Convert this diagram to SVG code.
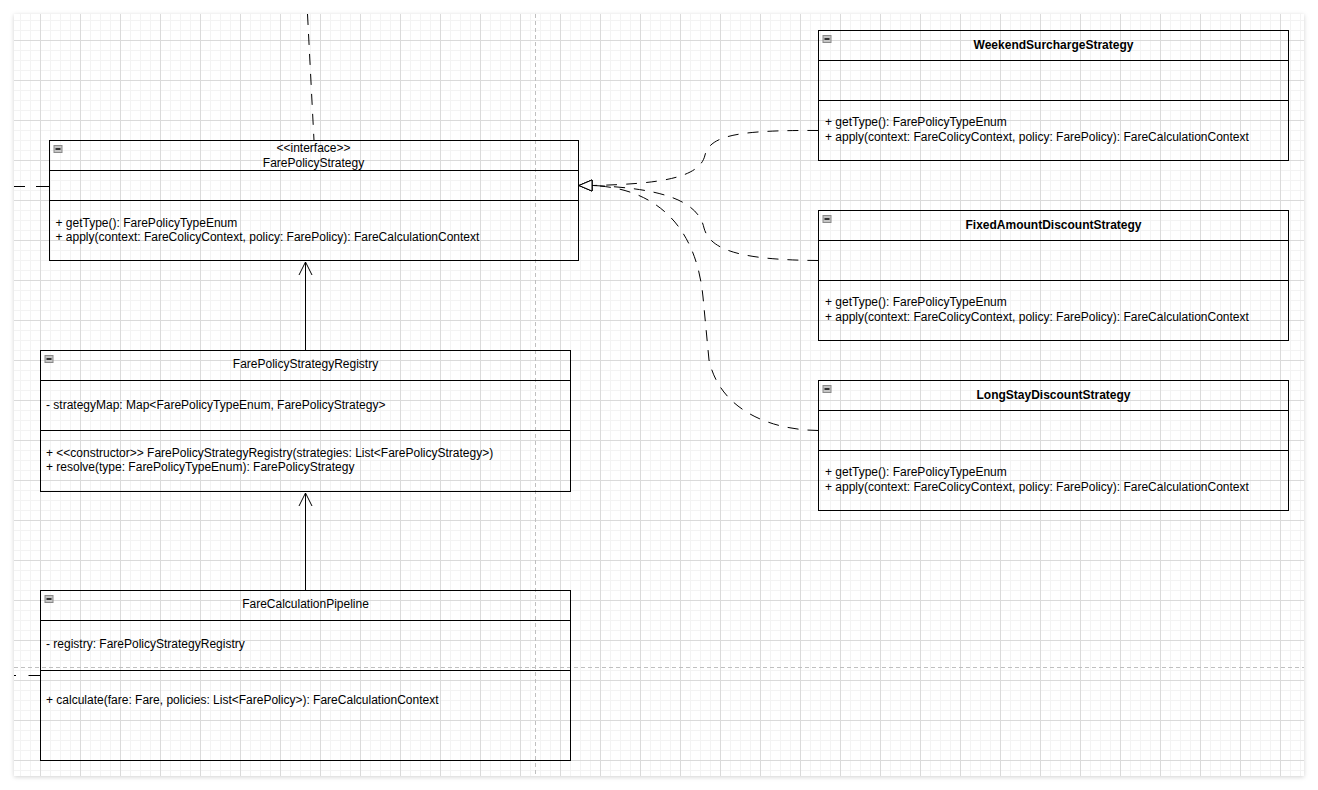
<svg xmlns="http://www.w3.org/2000/svg" width="1318" height="790" viewBox="0 0 1318 790">
<style>
text{font-family:"Liberation Sans",Arial,sans-serif;font-size:12px;fill:#000}
.t{text-anchor:middle}
.b{font-weight:bold}
.box{fill:none;stroke:#000;stroke-width:1}
.sep{stroke:#000;stroke-width:1}
.ico{fill:#c4c4c4;stroke:#8a8a8a;stroke-width:1}
.icl{stroke:#000;stroke-width:1.5}
.dash{fill:none;stroke:#000;stroke-width:1;stroke-dasharray:11 9}
.solid{fill:none;stroke:#000;stroke-width:1}
.pb{fill:none;stroke:#c0c0c0;stroke-width:1;stroke-dasharray:4 3}
</style>
<defs>
<pattern id="minor" x="0" y="0" width="10" height="10" patternUnits="userSpaceOnUse">
<path d="M0.5 0V10M0 0.5H10" stroke="#f3f3f3" stroke-width="1" fill="none"/>
</pattern>
<pattern id="major" x="0" y="0" width="40" height="40" patternUnits="userSpaceOnUse">
<rect width="40" height="40" fill="url(#minor)"/>
<path d="M0.5 0V40M0 0.5H40" stroke="#dadada" stroke-width="1" fill="none"/>
</pattern>
<filter id="sh" x="-5%" y="-5%" width="110%" height="110%">
<feDropShadow dx="0" dy="1" stdDeviation="2" flood-color="#000" flood-opacity="0.18"/>
</filter>
<marker id="tri" markerUnits="userSpaceOnUse" markerWidth="16" markerHeight="14" viewBox="-1 -1 16 14" refX="13" refY="5.5" orient="auto">
<path d="M0 0L13 5.5L0 11Z" fill="#fff" stroke="#000" stroke-width="1" stroke-dasharray="none"/>
</marker>
<marker id="open" markerUnits="userSpaceOnUse" markerWidth="16" markerHeight="16" viewBox="-1 -1 16 16" refX="13" refY="6.5" orient="auto">
<path d="M0 0L13 6.5L0 13" fill="none" stroke="#000" stroke-width="1" stroke-dasharray="none"/>
</marker>
</defs>
<rect width="1318" height="790" fill="#fff"/>
<rect x="14" y="14" width="1290" height="762" fill="#fff" filter="url(#sh)"/>
<rect x="14" y="14" width="1290" height="762" fill="url(#major)"/>
<path class="pb" d="M535.5 14V776M14 667.5H1304"/>

<g id="connectors">
<path class="dash" d="M307.5 14L314 140.5"/>
<path class="solid" d="M14 186.5H25M36 186.5H49.5"/>
<path class="solid" d="M14 675.5H16M28.5 675.5H40.5"/>
<path class="solid" d="M305.5 350.5V262" marker-end="url(#open)"/>
<path class="solid" d="M305.5 590.5V493" marker-end="url(#open)"/>
<path class="dash" d="M818.5 130.5C740 130 710 135 705 155C700 178 660 184 592 185.5L579 185.5" marker-end="url(#tri)"/>
<path class="dash" d="M818.5 260.5C740 260 710 250 704 228C698 200 660 188 592 185.5L579 185.5" marker-end="url(#tri)"/>
<path class="dash" d="M818.5 430.5C770 430 720 410 709 360L703 297C696 225 655 188 592 185.5L579 185.5" marker-end="url(#tri)"/>
</g>

<g id="FarePolicyStrategy">
<rect class="box" x="49.5" y="140.5" width="529" height="120"/>
<path class="sep" d="M49.5 170.5H578.5M49.5 200.5H578.5"/>
<rect class="ico" x="54" y="145.5" width="8" height="7"/>
<path class="icl" d="M55.5 149H60.5"/>
<text class="t" x="313.5" y="152">&lt;&lt;interface&gt;&gt;</text>
<text class="t" x="313.5" y="167">FarePolicyStrategy</text>
<text x="55.5" y="227">+ getType(): FarePolicyTypeEnum</text>
<text x="55.5" y="241">+ apply(context: FareColicyContext, policy: FarePolicy): FareCalculationContext</text>
</g>

<g id="FarePolicyStrategyRegistry">
<rect class="box" x="40.5" y="350.5" width="530" height="141"/>
<path class="sep" d="M40.5 380.5H570.5M40.5 430.5H570.5"/>
<rect class="ico" x="45" y="355.5" width="8" height="7"/>
<path class="icl" d="M46.5 359H51.5"/>
<text class="t" x="305.5" y="368">FarePolicyStrategyRegistry</text>
<text x="46" y="409">- strategyMap: Map&lt;FarePolicyTypeEnum, FarePolicyStrategy&gt;</text>
<text x="46" y="457">+ &lt;&lt;constructor&gt;&gt; FarePolicyStrategyRegistry(strategies: List&lt;FarePolicyStrategy&gt;)</text>
<text x="46" y="471">+ resolve(type: FarePolicyTypeEnum): FarePolicyStrategy</text>
</g>

<g id="FareCalculationPipeline">
<rect class="box" x="40.5" y="590.5" width="530" height="170"/>
<path class="sep" d="M40.5 620.5H570.5M40.5 670.5H570.5"/>
<rect class="ico" x="45" y="595.5" width="8" height="7"/>
<path class="icl" d="M46.5 599H51.5"/>
<text class="t" x="305.5" y="608">FareCalculationPipeline</text>
<text x="46" y="648">- registry: FarePolicyStrategyRegistry</text>
<text x="46" y="704">+ calculate(fare: Fare, policies: List&lt;FarePolicy&gt;): FareCalculationContext</text>
</g>

<g id="WeekendSurchargeStrategy">
<rect class="box" x="818.5" y="30.5" width="470" height="130"/>
<path class="sep" d="M818.5 60.5H1288.5M818.5 100.5H1288.5"/>
<rect class="ico" x="823" y="35.5" width="8" height="7"/>
<path class="icl" d="M824.5 39H829.5"/>
<text class="t b" x="1053.5" y="49">WeekendSurchargeStrategy</text>
<text x="825" y="126">+ getType(): FarePolicyTypeEnum</text>
<text x="825" y="140.5">+ apply(context: FareColicyContext, policy: FarePolicy): FareCalculationContext</text>
</g>

<g id="FixedAmountDiscountStrategy">
<rect class="box" x="818.5" y="210.5" width="470" height="130"/>
<path class="sep" d="M818.5 240.5H1288.5M818.5 280.5H1288.5"/>
<rect class="ico" x="823" y="215.5" width="8" height="7"/>
<path class="icl" d="M824.5 219H829.5"/>
<text class="t b" x="1053.5" y="229">FixedAmountDiscountStrategy</text>
<text x="825" y="306">+ getType(): FarePolicyTypeEnum</text>
<text x="825" y="320.5">+ apply(context: FareColicyContext, policy: FarePolicy): FareCalculationContext</text>
</g>

<g id="LongStayDiscountStrategy">
<rect class="box" x="818.5" y="380.5" width="470" height="130"/>
<path class="sep" d="M818.5 410.5H1288.5M818.5 450.5H1288.5"/>
<rect class="ico" x="823" y="385.5" width="8" height="7"/>
<path class="icl" d="M824.5 389H829.5"/>
<text class="t b" x="1053.5" y="399">LongStayDiscountStrategy</text>
<text x="825" y="476">+ getType(): FarePolicyTypeEnum</text>
<text x="825" y="490.5">+ apply(context: FareColicyContext, policy: FarePolicy): FareCalculationContext</text>
</g>
</svg>
